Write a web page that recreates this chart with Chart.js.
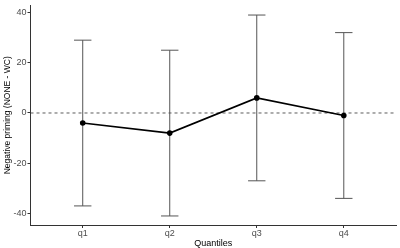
<!DOCTYPE html>
<html>
<head>
<meta charset="utf-8">
<script src="https://cdn.jsdelivr.net/npm/chart.js@4"></script>
<style>
  html, body { margin: 0; padding: 0; background: #fff; }
  #wrap { width: 400px; height: 248px; }
</style>
</head>
<body>
<div id="wrap"><canvas id="chart"></canvas></div>
<script>
const quantiles = ['q1', 'q2', 'q3', 'q4'];
const meanValues = [-4, -8, 6, -1];
const upperValues = [29, 25, 39, 32];
const lowerValues = [-37, -41, -27, -34];
const yTicks = [-40, -20, 0, 20, 40];

// error bars + dashed zero line, drawn through the chart scales
const errorBarPlugin = {
  id: 'errorBars',
  beforeDatasetsDraw(chart) {
    const { ctx, scales: { x, y } } = chart;
    ctx.save();
    // reference line at 0
    ctx.strokeStyle = '#333';
    ctx.lineWidth = 0.8;
    ctx.setLineDash([3, 3]);
    ctx.beginPath();
    ctx.moveTo(x.getPixelForValue(x.min), y.getPixelForValue(0));
    ctx.lineTo(x.getPixelForValue(x.max), y.getPixelForValue(0));
    ctx.stroke();
    ctx.setLineDash([]);

    ctx.strokeStyle = '#555';
    ctx.lineWidth = 1;
    quantiles.forEach((q, i) => {
      const xc = x.getPixelForValue(i + 1);
      const xl = x.getPixelForValue(i + 1 - 0.1);
      const xr = x.getPixelForValue(i + 1 + 0.1);
      const yt = y.getPixelForValue(upperValues[i]);
      const yb = y.getPixelForValue(lowerValues[i]);
      ctx.beginPath();
      ctx.moveTo(xc, yt); ctx.lineTo(xc, yb);
      ctx.moveTo(xl, yt); ctx.lineTo(xr, yt);
      ctx.moveTo(xl, yb); ctx.lineTo(xr, yb);
      ctx.stroke();
    });
    ctx.restore();
  }
};

const ctx = document.getElementById('chart').getContext('2d');
new Chart(ctx, {
  type: 'line',
  data: {
    datasets: [{
      data: meanValues.map((v, i) => ({ x: i + 1, y: v })),
      borderColor: '#000',
      backgroundColor: '#000',
      borderWidth: 1.6,
      pointRadius: 2.8,
      pointBorderWidth: 0,
      tension: 0
    }]
  },
  options: {
    responsive: true,
    maintainAspectRatio: false,
    animation: false,
    layout: { padding: { top: 4, right: 2, left: 3, bottom: 0 } },
    plugins: {
      legend: { display: false },
      tooltip: { enabled: false }
    },
    scales: {
      x: {
        type: 'linear',
        min: 0.4,
        max: 4.6,
        afterBuildTicks: (axis) => { axis.ticks = quantiles.map((q, i) => ({ value: i + 1 })); },
        ticks: {
          callback: (v) => quantiles[v - 1],
          color: '#4d4d4d',
          font: { family: 'Liberation Sans', size: 9, lineHeight: 1 },
          padding: 1,
          maxRotation: 0
        },
        grid: { drawOnChartArea: false, drawTicks: true, tickLength: 3, color: '#333' },
        border: { display: true, color: '#333', width: 1 },
        title: {
          display: true,
          text: 'Quantiles',
          color: '#000',
          font: { family: 'Liberation Sans', size: 9, lineHeight: 1 },
          padding: { top: 0, bottom: 0 }
        }
      },
      y: {
        min: -44.6,
        max: 42.8,
        afterBuildTicks: (axis) => { axis.ticks = yTicks.map(v => ({ value: v })); },
        ticks: {
          color: '#4d4d4d',
          font: { family: 'Liberation Sans', size: 9, lineHeight: 1 },
          padding: 1
        },
        grid: { drawOnChartArea: false, drawTicks: true, tickLength: 3, color: '#333' },
        border: { display: true, color: '#333', width: 1 },
        title: {
          display: true,
          text: 'Negative priming (NONE - WC)',
          color: '#000',
          font: { family: 'Liberation Sans', size: 8.5, lineHeight: 1 },
          padding: { top: 0, bottom: 1 }
        }
      }
    }
  },
  plugins: [errorBarPlugin]
});
</script>
</body>
</html>
